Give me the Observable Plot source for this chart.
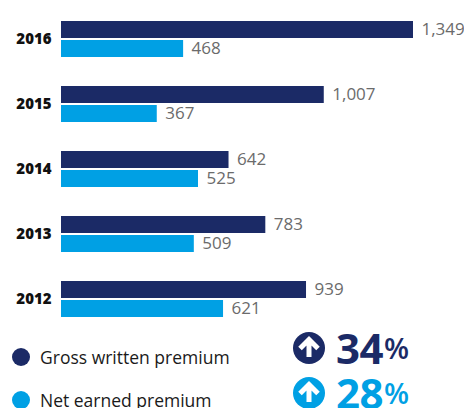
<!DOCTYPE html>
<html>
<head>
<meta charset="utf-8">
<script src="https://cdn.jsdelivr.net/npm/d3@7"></script>
<script src="https://cdn.jsdelivr.net/npm/@observablehq/plot@0.6"></script>
<style>
  html, body { margin: 0; padding: 0; background: #fff; }
  body { width: 464px; height: 408px; overflow: hidden; position: relative; font-family: "Open Sans", sans-serif; }
  #chart svg { display: block; overflow: visible; }
  .legend { position: absolute; left: 12px; height: 24px; line-height: 24px; display: flex; align-items: center; font-size: 17.5px; color: #1a1a1a; white-space: nowrap; }
  .legend i { display: block; width: 18px; height: 18px; border-radius: 50%; margin-right: 10px; }
  .change { position: absolute; left: 293px; height: 34px; display: flex; align-items: center; white-space: nowrap; font-weight: 700; font-size: 42px; line-height: 34px; letter-spacing: -0.5px; }
  .change svg { width: 32px; height: 32px; margin-right: 11px; flex: none; }
  .change small { font-size: 29px; font-weight: 600; align-self: flex-end; line-height: 34px; margin-left: 1px; }
</style>
</head>
<body>
<div id="chart"></div>
<script>
const years = ["2016", "2015", "2014", "2013", "2012"];
const grossWritten = [1349, 1007, 642, 783, 939];
const netEarned = [468, 367, 525, 509, 621];
const seriesNames = ["Gross written premium", "Net earned premium"];
const seriesColors = ["#1b2a66", "#00a0e4"];
const growth = [34, 28];
const legendCenter = [357, 400];
const changeCenter = [348, 393];

const rows = years.flatMap((year, i) => [
  {year, series: seriesNames[0], value: grossWritten[i]},
  {year, series: seriesNames[1], value: netEarned[i]}
]);

const plot = Plot.plot({
  width: 464,
  height: 328,
  marginTop: 19,
  marginBottom: 8,
  marginLeft: 61,
  marginRight: 0,
  style: {background: "transparent"},
  x: {domain: [0, 1349], range: [61, 413], axis: null},
  y: {domain: seriesNames, paddingInner: 0.1, paddingOuter: 0, axis: null},
  fy: {domain: years, paddingInner: 28 / 66, paddingOuter: 0, label: null},
  color: {domain: seriesNames, range: seriesColors},
  marks: [
    Plot.barX(rows, {fy: "year", y: "series", x: "value", fill: "series"}),
    Plot.text(rows, {
      fy: "year", y: "series", x: "value",
      text: d => d3.format(",")(d.value),
      textAnchor: "start", dx: 8,
      fill: "#6b6b6b", fontSize: 17, fontFamily: "Open Sans"
    }),
    Plot.axisFy({
      anchor: "left", tickSize: 0, tickPadding: 10, label: null, dy: -1,
      fontWeight: 800, fontSize: 15, fill: "#111", fontFamily: "Open Sans"
    })
  ]
});
document.getElementById("chart").append(plot);

// Legend rows and the year-on-year change badges under the bars
const body = d3.select("body");
seriesNames.forEach((name, i) => {
  const row = body.append("div").attr("class", "legend").style("top", (legendCenter[i] - 12) + "px");
  row.append("i").style("background", seriesColors[i]);
  row.append("span").text(name);

  const change = body.append("div").attr("class", "change")
    .style("top", (changeCenter[i] - 17) + "px").style("color", seriesColors[i]);
  change.append("svg").attr("viewBox", "0 0 32 32").html(
    `<circle cx="16" cy="16" r="16" fill="${seriesColors[i]}"/>` +
    `<path d="M7 16.5 L16 7.5 L25 16.5 M16 9 V25" fill="none" stroke="#fff" stroke-width="5" stroke-linejoin="miter"/>`
  );
  change.append("span").text(growth[i]);
  change.append("small").text("%");
});
</script>
</body>
</html>
